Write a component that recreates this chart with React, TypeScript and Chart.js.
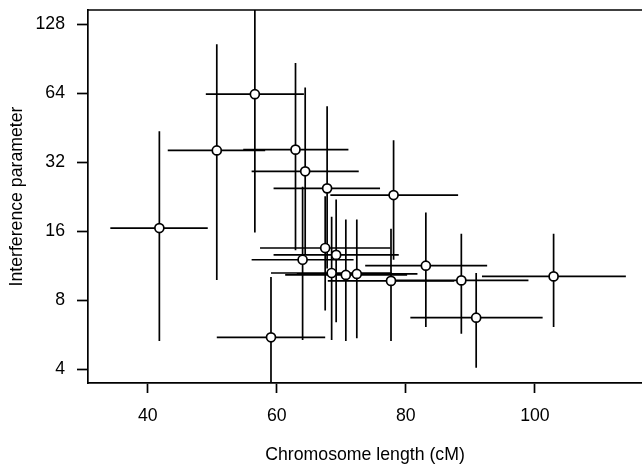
import React, { useEffect, useRef } from "react";
import Chart from "chart.js/auto";

// Chromosome length (cM) and interference parameter, with interval ends
const xs = [41.8, 50.7, 56.6, 62.9, 64.4, 67.8, 78.1, 67.5, 69.2, 64.0, 68.5, 70.7, 72.4, 77.7, 83.1, 88.6, 102.9, 90.9, 59.1];
const ys = [16.5, 36.0, 63.4, 36.3, 29.2, 24.6, 23.0, 13.5, 12.6, 12.0, 10.5, 10.3, 10.4, 9.7, 11.3, 9.75, 10.15, 6.7, 5.5];
const xLow = [34.2, 43.1, 49.0, 54.8, 56.1, 59.5, 68.3, 57.4, 59.5, 56.1, 59.1, 61.3, 63.1, 67.9, 73.7, 78.2, 91.8, 80.7, 50.7];
const xHigh = [49.3, 58.2, 64.2, 71.1, 72.7, 76.0, 88.1, 77.6, 78.9, 71.9, 77.8, 80.2, 81.8, 87.5, 92.6, 99.0, 114.1, 101.2, 67.5];
const yLow = [5.3, 9.8, 15.8, 13.2, 12.6, 11.0, 12.0, 7.2, 6.4, 5.35, 5.35, 5.3, 5.45, 5.3, 6.1, 5.7, 6.1, 4.05, 3.0];
const yHigh = [43.7, 104.7, 250, 86.8, 67.8, 56.2, 39.9, 22.7, 22.0, 25.0, 18.5, 18.0, 18.0, 16.4, 19.3, 15.6, 15.6, 10.5, 10.1];

const xTicks = [40, 60, 80, 100];
const yTicks = [4, 8, 16, 32, 64, 128];
const xRange = [30.74, 116.6];
const yRange = [3.475, 147.8];

const FONT = "'Liberation Sans', Arial, Helvetica, sans-serif";
const FS = 17.7;

const errorBars = {
  id: "errorBars",
  beforeDatasetsDraw(chart: any) {
    const { ctx, chartArea, scales } = chart;
    const sx = scales.x;
    const sy = scales.y;
    ctx.save();
    ctx.beginPath();
    ctx.rect(chartArea.left, chartArea.top, chartArea.right - chartArea.left, chartArea.bottom - chartArea.top);
    ctx.clip();
    ctx.strokeStyle = "#000";
    ctx.lineWidth = 1.7;
    ctx.lineCap = "butt";
    for (let i = 0; i < xs.length; i++) {
      const px = sx.getPixelForValue(xs[i]);
      const py = sy.getPixelForValue(ys[i]);
      ctx.beginPath();
      ctx.moveTo(sx.getPixelForValue(xLow[i]), py);
      ctx.lineTo(sx.getPixelForValue(xHigh[i]), py);
      ctx.moveTo(px, sy.getPixelForValue(yLow[i]));
      ctx.lineTo(px, sy.getPixelForValue(yHigh[i]));
      ctx.stroke();
    }
    ctx.restore();
  },
  afterDraw(chart: any) {
    const { ctx, chartArea } = chart;
    ctx.save();
    ctx.strokeStyle = "#000";
    ctx.lineWidth = 1.7;
    ctx.beginPath();
    ctx.moveTo(chartArea.left - 0.85, chartArea.top);
    ctx.lineTo(chartArea.right, chartArea.top);
    ctx.stroke();
    ctx.restore();
  },
};

export default function App() {
  const ref = useRef<HTMLCanvasElement | null>(null);
  useEffect(() => {
    if (!ref.current) return;
    const chart = new Chart(ref.current, {
      type: "scatter",
      data: {
        datasets: [
          {
            data: xs.map((x, i) => ({ x, y: ys[i] })),
            pointRadius: 4.5,
            pointHoverRadius: 4.5,
            pointBorderWidth: 1.7,
            pointBackgroundColor: "#fff",
            pointBorderColor: "#000",
          },
        ],
      },
      options: {
        responsive: false,
        animation: false,
        events: [],
        layout: { autoPadding: false, padding: { top: 10, right: 0, left: 0, bottom: 0 } },
        plugins: { legend: { display: false }, tooltip: { enabled: false } },
        scales: {
          x: {
            type: "linear",
            min: xRange[0],
            max: xRange[1],
            afterFit: (s: any) => {
              s.height = 83;
              s.paddingLeft = 0;
              s.paddingRight = 0;
              s.paddingTop = 0;
              s.paddingBottom = 0;
            },
            afterBuildTicks: (s: any) => { s.ticks = xTicks.map((v) => ({ value: v })); },
            ticks: {
              callback: (v: any) => String(v),
              font: { family: FONT, size: FS },
              color: "#000",
              padding: 12,
              maxRotation: 0,
            },
            grid: { drawOnChartArea: false, color: "#000", tickLength: 10, tickWidth: 1.7 },
            border: { display: true, color: "#000", width: 1.7 },
            title: {
              display: true,
              text: "Chromosome length (cM)",
              font: { family: FONT, size: FS },
              color: "#000",
              padding: { top: 0, bottom: 0 },
            },
          },
          y: {
            type: "logarithmic",
            min: yRange[0],
            max: yRange[1],
            afterFit: (s: any) => {
              s.width = 88;
              s.paddingLeft = 0;
              s.paddingRight = 0;
              s.paddingTop = 0;
              s.paddingBottom = 0;
            },
            afterBuildTicks: (s: any) => { s.ticks = yTicks.map((v) => ({ value: v })); },
            ticks: {
              callback: (v: any) => String(v),
              font: { family: FONT, size: FS },
              color: "#000",
              padding: 12,
            },
            grid: { drawOnChartArea: false, color: "#000", tickLength: 11, tickWidth: 1.7 },
            border: { display: true, color: "#000", width: 1.7 },
            title: {
              display: true,
              text: "Interference parameter",
              font: { family: FONT, size: FS },
              color: "#000",
              padding: { top: 6, bottom: 0 },
            },
          },
        },
      },
      plugins: [errorBars],
    } as any);
    return () => chart.destroy();
  }, []);
  return (
    <div style={{ position: "fixed", left: 0, top: 0, width: 642, height: 466, background: "#fff" }}>
      <canvas ref={ref} width={642} height={466} style={{ display: "block", width: 642, height: 466 }} />
    </div>
  );
}
